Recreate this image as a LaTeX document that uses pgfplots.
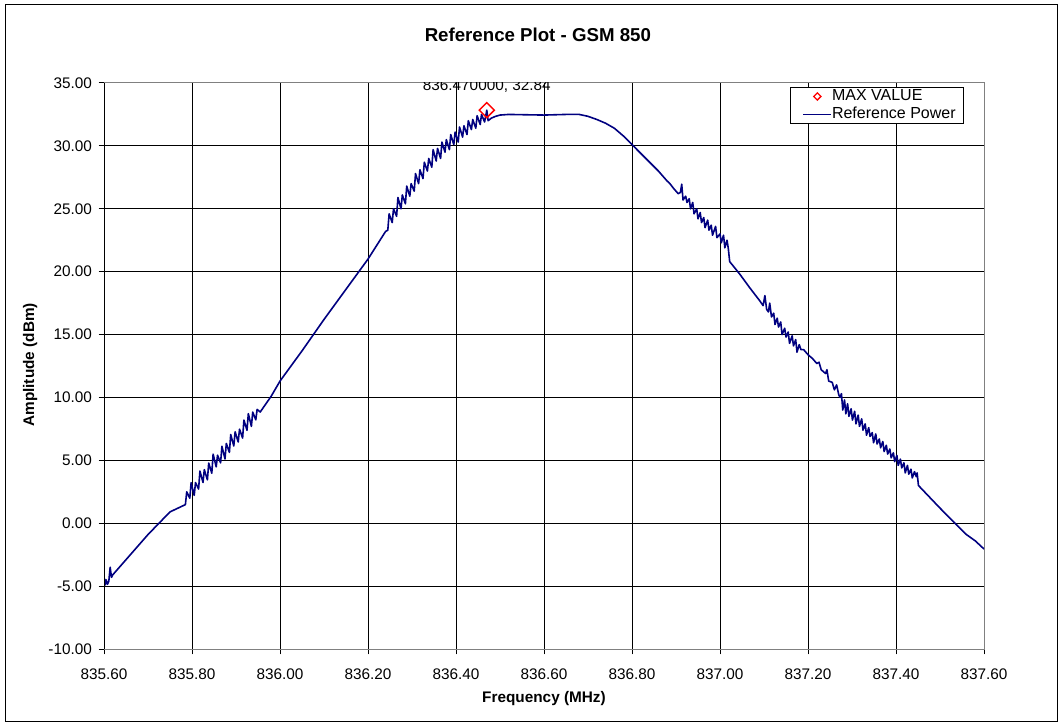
\documentclass[border=0pt]{standalone}
\usepackage{fontspec}
\setmainfont{Liberation Sans}
\usepackage{pgfplots}
\pgfplotsset{compat=1.18}
\usepackage{pgfplotstable}
\definecolor{navyline}{RGB}{0,0,128}
\definecolor{framegray}{RGB}{128,128,128}

\pgfplotstableread{
f A
835.600 -4.95
835.601 -4.40
835.603 -4.90
835.605 -4.50
835.608 -4.85
835.611 -4.60
835.614 -3.50
835.617 -4.30
835.620 -4.10
835.655 -2.70
835.700 -0.90
835.750 0.90
835.785 1.48
835.788 2.50
835.795 1.99
835.798 3.22
835.805 2.21
835.808 3.23
835.815 2.72
835.818 4.15
835.825 3.24
835.828 4.26
835.835 3.45
835.838 4.78
835.845 3.97
835.848 5.49
835.855 4.48
835.858 5.41
835.865 4.80
835.868 6.12
835.875 5.11
835.878 6.34
835.885 5.63
835.888 7.05
835.895 6.14
835.898 7.27
835.905 6.46
835.908 7.48
835.915 6.77
835.918 8.20
835.925 7.39
835.928 8.71
835.935 7.70
835.938 8.83
835.945 8.22
835.948 9.05
835.955 8.84
835.980 10.10
836.000 11.30
836.050 13.70
836.100 16.20
836.150 18.60
836.200 21.00
836.220 22.10
836.240 23.20
836.245 23.30
836.248 24.60
836.255 23.90
836.258 25.00
836.265 24.40
836.268 25.90
836.275 25.00
836.278 26.10
836.285 25.40
836.288 26.80
836.295 26.00
836.298 27.00
836.305 26.40
836.308 27.80
836.315 27.00
836.318 28.10
836.325 27.40
836.328 28.70
836.335 28.00
836.338 29.00
836.345 28.30
836.348 29.70
836.355 28.80
836.358 29.80
836.365 29.00
836.368 30.30
836.375 29.50
836.378 30.50
836.385 29.70
836.388 30.90
836.395 30.10
836.398 31.10
836.405 30.30
836.408 31.50
836.415 30.70
836.418 31.60
836.425 30.90
836.428 32.00
836.435 31.30
836.438 32.10
836.445 31.40
836.448 32.40
836.455 31.70
836.458 32.50
836.465 31.90
836.470 32.84
836.473 32.00
836.480 32.20
836.490 32.35
836.500 32.45
836.520 32.50
836.550 32.48
836.600 32.45
836.650 32.50
836.680 32.50
836.700 32.35
836.720 32.10
836.740 31.80
836.760 31.40
836.780 30.80
836.800 30.10
836.820 29.40
836.840 28.70
836.860 28.00
836.880 27.20
836.886 27.00
836.895 26.60
836.905 26.20
836.910 26.30
836.913 26.95
836.916 25.70
836.922 26.00
836.925 25.50
836.930 25.80
836.933 25.00
836.938 25.50
836.941 24.60
836.947 25.00
836.950 24.20
836.955 24.70
836.958 23.90
836.963 24.30
836.966 23.50
836.972 24.10
836.975 23.30
836.980 23.70
836.983 22.90
836.990 23.60
836.993 22.70
837.000 23.00
837.003 22.30
837.008 22.90
837.011 21.90
837.016 22.50
837.019 21.80
837.022 20.80
837.045 19.80
837.068 18.70
837.090 17.70
837.098 17.30
837.102 18.10
837.106 17.00
837.110 16.80
837.113 17.50
837.117 16.40
837.122 16.70
837.125 15.80
837.130 16.30
837.133 15.60
837.138 16.00
837.141 15.00
837.147 15.50
837.150 14.80
837.155 15.20
837.158 14.30
837.164 14.90
837.167 14.10
837.172 14.60
837.175 13.60
837.180 14.20
837.184 13.80
837.190 13.80
837.195 13.60
837.200 13.40
837.210 13.10
837.215 12.90
837.220 12.70
837.225 12.80
837.230 12.20
837.240 11.90
837.243 12.20
837.247 11.30
837.255 11.20
837.260 10.60
837.265 11.00
837.270 10.20
837.273 10.00
837.276 10.30
837.279 9.00
837.283 9.80
837.286 8.70
837.290 9.50
837.293 8.50
837.298 9.10
837.301 8.20
837.306 8.90
837.309 7.90
837.314 8.60
837.317 7.70
837.322 8.30
837.325 7.40
837.330 7.90
837.333 7.00
837.338 7.60
837.341 6.90
837.346 7.20
837.349 6.40
837.354 7.10
837.357 6.30
837.362 6.70
837.365 6.00
837.370 6.50
837.373 5.70
837.378 6.20
837.381 5.50
837.386 5.90
837.389 5.20
837.394 5.60
837.397 4.90
837.402 5.40
837.405 4.60
837.410 5.10
837.413 4.40
837.418 4.80
837.421 4.00
837.426 4.60
837.429 3.90
837.434 4.30
837.437 3.60
837.442 4.10
837.446 3.70
837.448 4.00
837.451 3.00
837.470 2.30
837.500 1.20
837.534 0.00
837.560 -0.90
837.580 -1.40
837.600 -2.05
}\refpower

\pgfplotstableread{
f A
836.470 32.84
}\maxval

\begin{document}
\begin{tikzpicture}
\path[use as bounding box] (0pt,0pt) rectangle (796.5pt,545.25pt);
\draw[black, line width=0.75pt] (3.75pt,3.75pt) rectangle (792.75pt,541.5pt);
\begin{axis}[
  at={(78pt,58.5pt)}, anchor=south west,
  scale only axis, width=660pt, height=424.5pt,
  xmin=835.6, xmax=837.6, ymin=-10, ymax=35,
  xtick={835.6,835.8,836.0,836.2,836.4,836.6,836.8,837.0,837.2,837.4,837.6},
  ytick={-10,-5,0,5,10,15,20,25,30,35},
  scaled x ticks=false, scaled y ticks=false,
  grid=major,
  major grid style={black, line width=0.75pt},
  axis line style={framegray, line width=0.75pt},
  tick style={black, line width=0.75pt},
  tick align=outside,
  major tick length=4pt,
  xtick pos=left, ytick pos=left,
  ticklabel style={font=\fontsize{11.5}{13}\selectfont},
  xticklabel style={yshift=-7.5pt, /pgf/number format/.cd, fixed, fixed zerofill, precision=2, assume math mode=true},
  yticklabel style={xshift=-1.5pt, /pgf/number format/.cd, fixed, fixed zerofill, precision=2, assume math mode=true},
  every axis title shift=0pt,
  title={Reference Plot - GSM 850},
  title style={font=\bfseries\fontsize{14}{16}\selectfont, at={(rel axis cs:0.493,1.085)}, anchor=center},
  xlabel={Frequency (MHz)},
  xlabel style={font=\bfseries\fontsize{11.5}{13}\selectfont, at={(rel axis cs:0.5,-0.088)}, anchor=center},
  ylabel={Amplitude (dBm)},
  ylabel style={font=\bfseries\fontsize{11.5}{13}\selectfont, at={(rel axis cs:-0.084,0.502)}, anchor=center, rotate=0},
  legend style={at={(rel axis cs:0.7795,0.993)}, anchor=north west, draw=black, line width=0.6pt,
    font=\fontsize{12}{13.5}\selectfont, inner xsep=6pt, inner ysep=0pt, row sep=0pt,
    nodes={text height=9.4pt, text depth=3.3pt, inner xsep=0pt, inner ysep=0.5pt}},
  legend cell align=left,
]
\addlegendimage{legend image code/.code={\path[draw=none] (0pt,0pt) -- (24.75pt,0pt); \draw[red, line width=1pt, mark=square, mark size=1.9pt, mark options={rotate=45, solid}] plot coordinates {(14.25pt,0pt)};}}
\addlegendentry{MAX VALUE}
\addlegendimage{legend image code/.code={\path[draw=none] (0pt,0pt) -- (24.75pt,0pt); \draw[navyline, line width=1pt] (3.75pt,0pt) -- (24.75pt,0pt);}}
\addlegendentry{Reference Power\hspace{5pt}}
\addplot[navyline, line width=1.2pt, line join=round, mark=none, forget plot] table[x=f, y=A] {\refpower};
\addplot[red, line width=1.1pt, only marks, mark=square, mark size=4pt, mark options={rotate=45}, forget plot] table[x=f, y=A] {\maxval};
\node[anchor=base, inner sep=0pt, font=\fontsize{11.5}{13}\selectfont, yshift=15pt] at (axis cs:836.47,32.84) {836.470000, 32.84};
\draw[black, line width=0.75pt] (rel axis cs:0,0) -- (rel axis cs:0,1);
\end{axis}
\end{tikzpicture}
\end{document}
